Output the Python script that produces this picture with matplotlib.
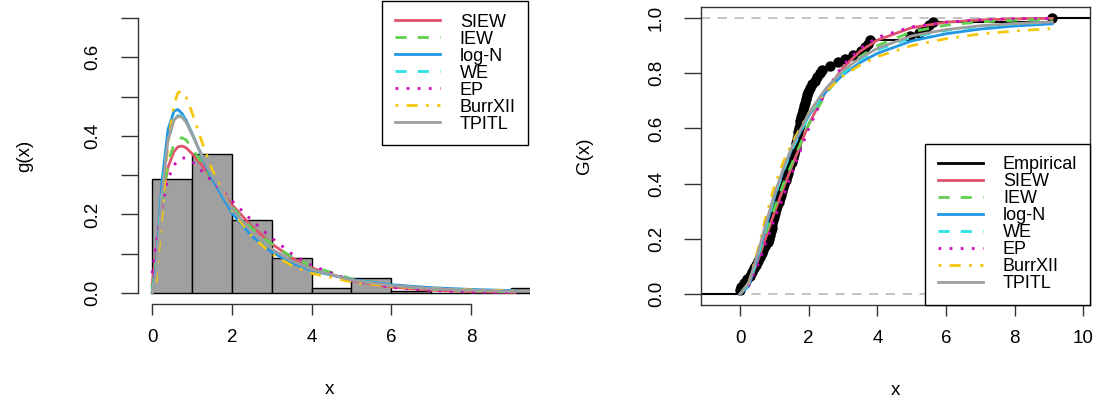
import numpy as np
import matplotlib
matplotlib.use("Agg")
from matplotlib import pyplot as plt
from matplotlib.lines import Line2D

plt.rcParams['font.family'] = ['Liberation Sans', 'DejaVu Sans']

# histogram bins (width 1) and their densities
bin_left = [0, 1, 2, 3, 4, 5, 6, 7, 8, 9]
bin_density = [0.29, 0.355, 0.185, 0.09, 0.012, 0.038, 0.004, 0.0, 0.0, 0.013]

# observed sample used for the empirical cdf
sample = [0.00, 0.04,
          0.12, 0.20, 0.28, 0.35, 0.40,
          0.46, 0.52, 0.58, 0.63, 0.68, 0.73,
          0.80, 0.83, 0.86, 0.89, 0.92, 0.94, 0.97, 0.99,
          1.03, 1.06, 1.09, 1.13, 1.16, 1.19, 1.22, 1.25, 1.28,
          1.33, 1.36, 1.40, 1.43, 1.46, 1.50, 1.53, 1.56, 1.59,
          1.62, 1.64, 1.66, 1.68, 1.70, 1.72, 1.74, 1.76, 1.78, 1.80, 1.83,
          1.87, 1.90, 1.93, 1.96, 1.99,
          2.05, 2.11, 2.18, 2.25, 2.32, 2.38,
          2.62, 2.84, 3.05, 3.28,
          3.52, 3.64, 3.73, 3.79,
          4.95, 5.22, 5.38, 5.50, 5.62, 9.08]

models = ["SIEW", "IEW", "log-N", "WE", "EP", "BurrXII", "TPITL"]

# fitted densities
x_pdf = [0, 0.1, 0.25, 0.4, 0.55, 0.65, 0.75, 0.85, 1.0, 1.25, 1.5, 2, 2.5, 3, 3.5, 4, 5, 6, 7, 8, 9.1]
pdf_siew = [0.02, 0.10, 0.24, 0.32, 0.36, 0.372, 0.374, 0.37, 0.355, 0.325, 0.29, 0.225, 0.17, 0.125, 0.09, 0.064, 0.031, 0.015, 0.007, 0.0035, 0.0015]
pdf_iew = [0.01, 0.08, 0.23, 0.33, 0.38, 0.393, 0.395, 0.39, 0.37, 0.33, 0.29, 0.22, 0.165, 0.125, 0.092, 0.068, 0.036, 0.019, 0.010, 0.0055, 0.003]
pdf_logn = [0.0, 0.063, 0.284, 0.416, 0.463, 0.467, 0.457, 0.44, 0.407, 0.347, 0.292, 0.204, 0.145, 0.104, 0.077, 0.057, 0.034, 0.021, 0.0135, 0.009, 0.006]
pdf_we = [0.0, 0.06, 0.26, 0.39, 0.44, 0.452, 0.45, 0.437, 0.405, 0.35, 0.30, 0.215, 0.155, 0.112, 0.082, 0.06, 0.033, 0.019, 0.011, 0.007, 0.004]
pdf_ep = [0.05, 0.12, 0.22, 0.29, 0.325, 0.338, 0.344, 0.343, 0.335, 0.31, 0.285, 0.235, 0.185, 0.14, 0.10, 0.07, 0.032, 0.014, 0.006, 0.0025, 0.001]
pdf_burr = [0.0, 0.03, 0.20, 0.38, 0.48, 0.51, 0.514, 0.50, 0.46, 0.385, 0.315, 0.21, 0.145, 0.10, 0.07, 0.05, 0.028, 0.017, 0.011, 0.008, 0.0055]
pdf_tpitl = [0.0, 0.05, 0.25, 0.39, 0.44, 0.45, 0.448, 0.435, 0.405, 0.35, 0.30, 0.215, 0.155, 0.112, 0.082, 0.06, 0.033, 0.019, 0.011, 0.007, 0.004]

# fitted cdfs
x_cdf = [0, 0.25, 0.5, 0.75, 1, 1.25, 1.5, 2, 2.5, 3, 3.5, 4, 5, 6, 7, 8, 9.1]
cdf_siew = [0, 0.035, 0.115, 0.205, 0.295, 0.38, 0.46, 0.615, 0.735, 0.82, 0.88, 0.92, 0.965, 0.985, 0.993, 0.997, 0.999]
cdf_iew = [0, 0.04, 0.125, 0.22, 0.31, 0.395, 0.47, 0.615, 0.725, 0.805, 0.86, 0.90, 0.95, 0.974, 0.986, 0.992, 0.995]
cdf_logn = [0, 0.028, 0.126, 0.242, 0.35, 0.444, 0.524, 0.647, 0.733, 0.795, 0.839, 0.872, 0.917, 0.943, 0.96, 0.971, 0.979]
cdf_we = [0, 0.035, 0.13, 0.245, 0.35, 0.44, 0.52, 0.645, 0.735, 0.80, 0.85, 0.885, 0.93, 0.955, 0.97, 0.979, 0.985]
cdf_ep = [0, 0.03, 0.10, 0.185, 0.27, 0.35, 0.435, 0.60, 0.735, 0.83, 0.89, 0.93, 0.968, 0.985, 0.994, 0.998, 0.999]
cdf_burr = [0, 0.04, 0.15, 0.28, 0.39, 0.475, 0.545, 0.655, 0.735, 0.79, 0.83, 0.86, 0.90, 0.925, 0.942, 0.953, 0.962]
cdf_tpitl = [0, 0.04, 0.14, 0.255, 0.36, 0.45, 0.53, 0.655, 0.745, 0.81, 0.855, 0.89, 0.935, 0.958, 0.972, 0.98, 0.986]

colors = ["#DF536B", "#61D04F", "#2297E6", "#28E2E5", "#CD0BBC", "#F5C710", "#9E9E9E"]
styles = ["-", (0, (4, 4)), "-", (0, (4, 4)), (0, (1, 3)), (0, (1, 3, 4, 3)), "-"]
pdfs = [pdf_siew, pdf_iew, pdf_logn, pdf_we, pdf_ep, pdf_burr, pdf_tpitl]
cdfs = [cdf_siew, cdf_iew, cdf_logn, cdf_we, cdf_ep, cdf_burr, cdf_tpitl]

fig = plt.figure(figsize=(11.01, 3.98), dpi=100)
leg_kw = dict(fontsize=13, frameon=True, fancybox=False, edgecolor='black', framealpha=1,
              labelspacing=0.0, handlelength=2.5, handletextpad=1.1, borderpad=0.7, borderaxespad=0)

# ---- left: histogram + densities
ax1 = fig.add_axes([0.1249, 0.2362, 0.3561, 0.7462])
ax1.bar(bin_left, bin_density, width=1, align='edge', color='#A0A0A0', edgecolor='black', linewidth=1)
for name, y, c, ls in zip(models, pdfs, colors, styles):
    ax1.plot(x_pdf, y, color=c, linestyle=ls, lw=2, label=name)
ax1.set_xlim(-0.364, 9.464)
ax1.set_ylim(-0.028, 0.728)
ax1.set_xticks([0, 2, 4, 6, 8])
ax1.set_yticks([0, 0.1, 0.2, 0.3, 0.4, 0.5, 0.6, 0.7])
ax1.set_yticklabels(["0.0", "", "0.2", "", "0.4", "", "0.6", ""])
ax1.spines['top'].set_visible(False)
ax1.spines['right'].set_visible(False)
ax1.spines['left'].set_bounds(0, 0.7)
ax1.spines['bottom'].set_bounds(0, 8)
ax1.set_xlabel("x", fontsize=13.5)
ax1.set_ylabel("g(x)", fontsize=13.5)
ax1.xaxis.set_label_coords(0.49, -0.26)
ax1.yaxis.set_label_coords(-0.267, 0.5)
leg1 = ax1.legend(loc='upper right', bbox_to_anchor=(0.997, 1.02), **leg_kw)
leg1.get_frame().set_linewidth(1)

# ---- right: empirical cdf + fitted cdfs
ax2 = fig.add_axes([0.6367, 0.2337, 0.3533, 0.7487])
xs = np.sort(np.array(sample))
n = len(xs)
levels = np.arange(1, n + 1) / n
ax2.axhline(0, color='#B3B3B3', linestyle=(0, (6, 5)), lw=1.1)
ax2.axhline(1, color='#B3B3B3', linestyle=(0, (6, 5)), lw=1.1)
edges = np.append(xs, 10.2)
ax2.hlines(levels, edges[:-1], edges[1:], color='black', lw=1.5)
ax2.hlines(0, -1.14, xs[0], color='black', lw=1.5)
ax2.plot(xs, levels, 'o', color='black', ms=6.5, label="Empirical")
for name, y, c, ls in zip(models, cdfs, colors, styles):
    ax2.plot(x_cdf, y, color=c, linestyle=ls, lw=2, label=name)
ax2.set_xlim(-1.14, 10.2)
ax2.set_ylim(-0.04, 1.04)
ax2.set_xticks([0, 2, 4, 6, 8, 10])
ax2.set_yticks([0, 0.2, 0.4, 0.6, 0.8, 1.0])
ax2.set_yticklabels(["0.0", "0.2", "0.4", "0.6", "0.8", "1.0"])
ax2.set_xlabel("x", fontsize=13.5)
ax2.set_ylabel("G(x)", fontsize=13.5)
ax2.xaxis.set_label_coords(0.5, -0.26)
ax2.yaxis.set_label_coords(-0.278, 0.5)
h, l = ax2.get_legend_handles_labels()
h[0] = Line2D([], [], color='black', lw=2)
leg2 = ax2.legend(h, l, loc='lower right', bbox_to_anchor=(1.0, 0.0), **leg_kw)
leg2.get_frame().set_linewidth(1)

for ax in (ax1, ax2):
    ax.tick_params(axis='both', labelsize=13.5, width=1, color='#333333')
    ax.tick_params(axis='x', length=8, pad=10)
    ax.tick_params(axis='y', length=12, labelrotation=90, pad=14)
    for lab in ax.get_yticklabels():
        lab.set_verticalalignment('center')
    for s in ax.spines.values():
        s.set_linewidth(1)
        s.set_color('#333333')

fig.savefig("out.png", dpi=100)
